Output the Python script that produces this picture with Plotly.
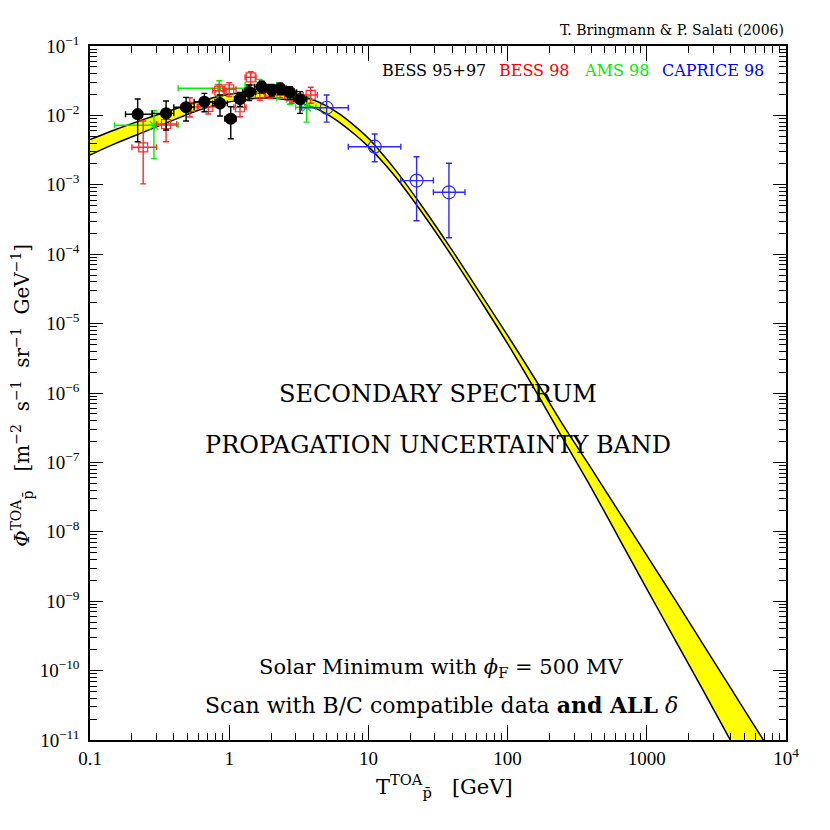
import plotly.graph_objects as go

FONT = "Liberation Serif"
TEXT_FONT = "DejaVu Serif"

# ---- secondary antiproton band (lower / upper edge of propagation uncertainty)
band_T = [0.1, 0.15, 0.25, 0.4, 0.6, 1, 1.5, 2, 2.5, 3, 4, 5, 6.3, 8, 10, 12.6,
          16, 25, 40, 63, 100, 160, 250, 400, 630, 1000, 1600, 2500, 4000,
          6300, 8000]
band_lo = [2.69e-3, 3.89e-3, 5.89e-3, 8.61e-3, 1.183e-2, 1.567e-2, 1.758e-2,
           1.778e-2, 1.698e-2, 1.578e-2, 1.303e-2, 1.054e-2, 7.76e-3, 5.31e-3,
           3.55e-3, 2.163e-3, 1.230e-3, 3.67e-4, 9.23e-5, 2.24e-5, 5.13e-6,
           1.047e-6, 2.19e-7, 4.27e-8, 8.13e-9, 1.51e-9, 2.75e-10, 5.50e-11,
           9.8e-12, 1.9e-12, 8.1e-13]
band_hi = [4.47e-3, 6.17e-3, 8.91e-3, 1.216e-2, 1.574e-2, 2.018e-2, 2.213e-2,
           2.239e-2, 2.138e-2, 2.004e-2, 1.679e-2, 1.371e-2, 1.023e-2, 7.0e-3,
           4.68e-3, 2.786e-3, 1.549e-3, 4.52e-4, 1.135e-4, 2.82e-5, 6.76e-6,
           1.514e-6, 3.47e-7, 8.13e-8, 1.95e-8, 4.57e-9, 1.047e-9, 2.51e-10,
           5.62e-11, 1.32e-11, 6.2e-12]

# ---- BESS 95+97
bess97_T    = [0.220, 0.352, 0.490, 0.663, 0.859, 1.026, 1.196, 1.393, 1.71,
               2.02, 2.32, 2.73, 3.23]
bess97_T_lo = [0.18, 0.28, 0.40, 0.56, 0.76, 0.93, 1.09, 1.25, 1.52, 1.82,
               2.10, 2.45, 2.90]
bess97_T_hi = [0.28, 0.40, 0.56, 0.79, 0.97, 1.12, 1.30, 1.55, 1.90, 2.25,
               2.58, 3.05, 3.60]
bess97_f    = [0.0104, 0.0107, 0.0131, 0.0157, 0.0149, 0.00895, 0.0172,
               0.0217, 0.0259, 0.0232, 0.0245, 0.0215, 0.0171]
bess97_f_lo = [0.00418, 0.00617, 0.0083, 0.0113, 0.0098, 0.00461, 0.0135,
               0.0163, 0.021, 0.019, 0.020, 0.017, 0.0107]
bess97_f_hi = [0.0172, 0.0161, 0.0182, 0.0208, 0.0197, 0.0133, 0.0215,
               0.0274, 0.031, 0.028, 0.029, 0.026, 0.022]

# ---- BESS 98
bess98_T    = [0.241, 0.352, 0.522, 0.708, 0.849, 1.00, 1.196, 1.427, 1.66,
               1.97, 2.32, 2.81, 3.85]
bess98_T_lo = [0.20, 0.30, 0.45, 0.59, 0.76, 0.90, 1.08, 1.30, 1.50, 1.78,
               2.10, 2.50, 3.40]
bess98_T_hi = [0.30, 0.42, 0.60, 0.85, 0.95, 1.12, 1.32, 1.56, 1.82, 2.18,
               2.56, 3.15, 4.30]
bess98_f    = [0.00347, 0.00752, 0.0133, 0.0133, 0.0227, 0.0238, 0.0131,
               0.0354, 0.0208, 0.0219, 0.0227, 0.0190, 0.0197]
bess98_f_lo = [0.00103, 0.00418, 0.0095, 0.0105, 0.018, 0.0188, 0.00958,
               0.0274, 0.0165, 0.0175, 0.018, 0.015, 0.0150]
bess98_f_hi = [0.0083, 0.0120, 0.018, 0.017, 0.028, 0.0297, 0.0176, 0.0426,
               0.026, 0.0275, 0.028, 0.024, 0.0255]

# ---- AMS 98
ams_T    = [0.288, 0.849, 1.66, 2.73, 3.60]
ams_T_lo = [0.150, 0.43, 1.30, 2.20, 3.00]
ams_T_hi = [0.430, 1.33, 2.19, 3.30, 4.20]
ams_f    = [0.0072, 0.0246, 0.0274, 0.0176, 0.0131]
ams_f_lo = [0.00238, 0.019, 0.022, 0.0145, 0.0080]
ams_f_hi = [0.0117, 0.0316, 0.033, 0.021, 0.0186]

# ---- CAPRICE 98
cap_T    = [5.01, 11.1, 22.2, 37.9]
cap_T_lo = [3.32, 7.17, 17.1, 29.3]
cap_T_hi = [7.17, 17.1, 29.3, 49.4]
cap_f    = [0.0129, 0.00354, 0.00115, 0.00078]
cap_f_lo = [0.0080, 0.00215, 0.000304, 0.000173]
cap_f_hi = [0.0197, 0.0054, 0.00254, 0.00204]

x_ticks = [0.1, 1, 10, 100, 1000, 10000]
x_ticktext = ["0.1", "1", "10", "100", "1000", "10<sup>4</sup>"]
y_exps = [-1, -2, -3, -4, -5, -6, -7, -8, -9, -10, -11]


def data_trace(T, T_lo, T_hi, f, f_lo, f_hi, colour, symbol, size):
    return go.Scatter(
        x=T, y=f, mode="markers",
        marker=dict(symbol=symbol, size=size, color=colour,
                    line=dict(color=colour, width=1.2)),
        error_x=dict(type="data", symmetric=False,
                     array=[h - t for h, t in zip(T_hi, T)],
                     arrayminus=[t - l for t, l in zip(T, T_lo)],
                     color=colour, thickness=1.4, width=3),
        error_y=dict(type="data", symmetric=False,
                     array=[h - v for h, v in zip(f_hi, f)],
                     arrayminus=[v - l for v, l in zip(f, f_lo)],
                     color=colour, thickness=1.4, width=3),
        showlegend=False, hoverinfo="x+y",
    )


fig = go.Figure()

fig.add_trace(go.Scatter(x=band_T, y=band_lo, mode="lines",
                         line=dict(color="black", width=1.5, shape="spline"),
                         showlegend=False))
fig.add_trace(go.Scatter(x=band_T, y=band_hi, mode="lines", fill="tonexty",
                         fillcolor="#ffff00",
                         line=dict(color="black", width=1.5, shape="spline"),
                         showlegend=False))

fig.add_trace(data_trace(ams_T, ams_T_lo, ams_T_hi, ams_f, ams_f_lo, ams_f_hi,
                         "#00ee00", "asterisk-open", 10))
fig.add_trace(data_trace(bess98_T, bess98_T_lo, bess98_T_hi, bess98_f,
                         bess98_f_lo, bess98_f_hi, "#ff2a2a", "square-open", 9))
fig.add_trace(data_trace(bess97_T, bess97_T_lo, bess97_T_hi, bess97_f,
                         bess97_f_lo, bess97_f_hi, "black", "circle", 11))
fig.add_trace(data_trace(cap_T, cap_T_lo, cap_T_hi, cap_f, cap_f_lo, cap_f_hi,
                         "#2a2aff", "circle-open", 13))

axis_common = dict(
    type="log", showgrid=False, zeroline=False,
    showline=True, linecolor="black", linewidth=1.5, mirror="allticks",
    ticks="inside", tickcolor="black", tickwidth=1.2,
    tickfont=dict(family=FONT, size=19, color="black"),
    minor=dict(ticks="inside", dtick="D1", ticklen=7, tickcolor="black",
               tickwidth=1, showgrid=False),
)

fig.update_xaxes(**axis_common, range=[-1, 4], tickvals=x_ticks,
                 ticktext=x_ticktext, ticklen=15)
fig.update_yaxes(**axis_common, range=[-11, -1],
                 tickvals=[10.0 ** e for e in y_exps],
                 ticktext=[f"10<sup>\u2212{-e}</sup>" for e in y_exps],
                 ticklen=13, ticklabelstandoff=5)


def note(text, x, y, size, colour="black", xanchor="center", angle=0,
         family=TEXT_FONT):
    fig.add_annotation(text=text, x=x, y=y, xref="paper", yref="paper",
                       xanchor=xanchor, yanchor="middle", showarrow=False,
                       textangle=angle,
                       font=dict(family=family, size=size, color=colour))


note("T. Bringmann &amp; P. Salati (2006)", 1.0, 1.023, 14, xanchor="right")
note("BESS 95+97", 0.417, 0.964, 16, xanchor="left")
note("BESS 98", 0.585, 0.964, 16, "#ff0000", xanchor="left")
note("AMS 98", 0.707, 0.964, 16, "#00ee00", xanchor="left")
note("CAPRICE 98", 0.819, 0.964, 16, "#0000ff", xanchor="left")

note("SECONDARY SPECTRUM", 0.5, 0.4986, 24)
note("PROPAGATION UNCERTAINTY BAND", 0.5, 0.425, 24)
note("Solar Minimum with <i>\u03d5</i><sub>F</sub> = 500 MV", 0.505, 0.1037, 21)
note("Scan with B/C compatible data <b>and ALL</b> <i>\u03b4</i>", 0.505, 0.0504, 22)

note("T<sup>TOA</sup><sub>p\u0304</sub>\u00a0\u00a0\u00a0[GeV]", 0.51, -0.066, 21)
note("<i>\u03a6</i><sup>TOA</sup><sub>p\u0304</sub>\u00a0\u00a0\u00a0[m<sup>\u22122</sup>"
     "\u00a0\u00a0s<sup>\u22121</sup>\u00a0\u00a0sr<sup>\u22121</sup>"
     "\u00a0\u00a0GeV<sup>\u22121</sup>]", -0.098, 0.497, 20, angle=-90)

# page body adds an 8 px offset, so the figure is 8 px smaller than the window
fig.update_layout(
    width=822, height=822,
    margin=dict(l=82, r=44, t=38, b=90),
    paper_bgcolor="white", plot_bgcolor="white",
    font=dict(family=FONT, color="black"),
    showlegend=False,
)

fig.write_html("out.html")
